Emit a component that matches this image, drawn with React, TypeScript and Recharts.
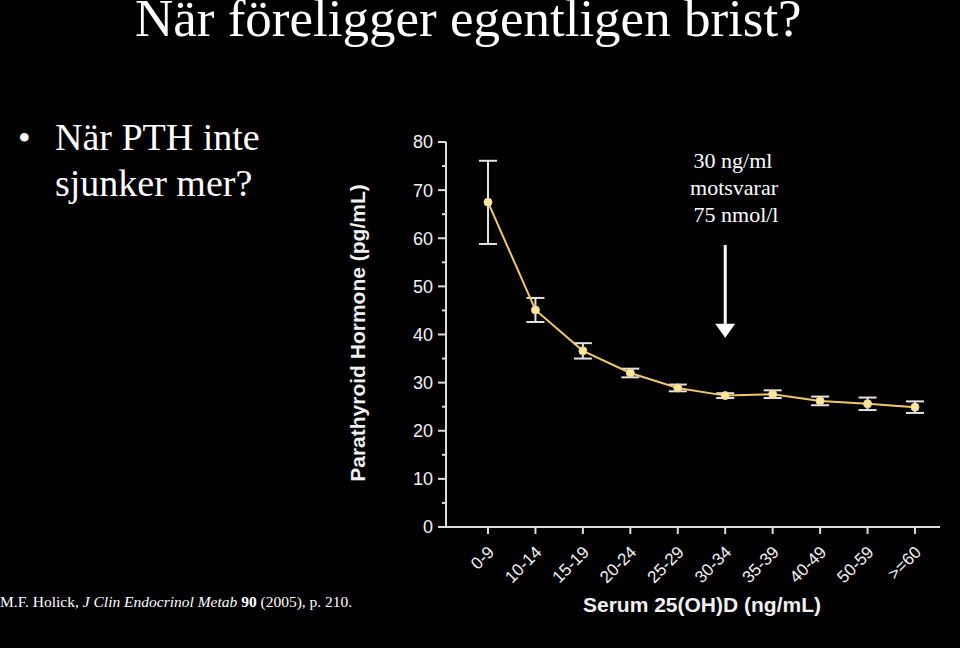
import React from "react";
import {
  LineChart,
  Line,
  XAxis,
  YAxis,
  ErrorBar,
  ReferenceLine,
} from "recharts";

const categories = ["0-9", "10-14", "15-19", "20-24", "25-29", "30-34", "35-39", "40-49", "50-59", ">=60"];
const pthValues = [67.5, 45.1, 36.6, 32.0, 28.9, 27.3, 27.6, 26.2, 25.6, 24.9];
const errLow = [8.7, 2.5, 1.6, 0.9, 0.7, 0.5, 0.8, 0.9, 1.3, 1.2];
const errHigh = [8.6, 2.5, 1.6, 0.9, 0.7, 0.5, 0.8, 0.9, 1.3, 1.2];
const yTicks = [0, 5, 10, 15, 20, 25, 30, 35, 40, 45, 50, 55, 60, 65, 70, 75, 80];

const data = categories.map((c, i) => ({
  range: c,
  pth: pthValues[i],
  err: [errLow[i], errHigh[i]],
}));

const AXIS = "#dcdcdc";
const SANS = "'Liberation Sans', Arial, sans-serif";
const SERIF = "'Liberation Serif', 'Times New Roman', serif";

function YTick(props: any) {
  const { x, y, payload } = props;
  const major = payload.value % 10 === 0;
  return (
    <g>
      <line x1={x - (major ? 8 : 4)} x2={x} y1={y} y2={y} stroke={AXIS} strokeWidth={2} />
      {major && (
        <text x={x - 13} y={y} dy="0.36em" textAnchor="end" fill="#f2f2f2" fontSize={18} fontFamily={SANS}>
          {payload.value}
        </text>
      )}
    </g>
  );
}

function XTick(props: any) {
  const { x, y, payload } = props;
  return (
    <g transform={`translate(${x},${y})`}>
      <line x1={0} x2={0} y1={0} y2={7} stroke={AXIS} strokeWidth={2} />
      <g transform="translate(3,22) rotate(-45)">
        <text textAnchor="end" dy="0.35em" fill="#f2f2f2" fontSize={17} fontFamily={SANS}>
          {payload.value}
        </text>
      </g>
    </g>
  );
}

// the downward arrow pointing at 30-34
function Arrow(props: any) {
  const { x1, y1, y2 } = props;
  const head = 14;
  return (
    <g>
      <line x1={x1} x2={x1} y1={y1} y2={y2 - head} stroke="#fff" strokeWidth={3} />
      <polygon points={`${x1 - 10},${y2 - head} ${x1 + 10},${y2 - head} ${x1},${y2}`} fill="#fff" />
    </g>
  );
}

export default function App() {
  return (
    <div
      style={{
        position: "absolute",
        top: 0,
        left: 0,
        width: 960,
        height: 648,
        background: "#000",
        overflow: "hidden",
      }}
    >
      <div style={{ position: "absolute", top: 0, left: 0 }}>
        <LineChart
          width={960}
          height={648}
          data={data}
          margin={{ top: 142, right: 20, bottom: 0, left: 0 }}
        >
          <XAxis
            dataKey="range"
            height={121}
            padding={{ left: 42, right: 25 }}
            axisLine={{ stroke: AXIS, strokeWidth: 2 }}
            tickLine={false}
            tickSize={0}
            tickMargin={0}
            tick={<XTick />}
            interval={0}
          />
          <YAxis
            width={446}
            domain={[0, 80]}
            ticks={yTicks}
            interval={0}
            axisLine={{ stroke: AXIS, strokeWidth: 2 }}
            tickLine={false}
            tickSize={0}
            tickMargin={0}
            tick={<YTick />}
          />
          <ReferenceLine
            segment={[
              { x: "30-34", y: 58.6 },
              { x: "30-34", y: 39.3 },
            ]}
            shape={<Arrow />}
          />
          <Line
            type="linear"
            dataKey="pth"
            stroke="#efc86e"
            strokeWidth={2}
            dot={{ r: 4, fill: "#fbe7a2", stroke: "#f3d489", strokeWidth: 1 }}
            isAnimationActive={false}
          >
            <ErrorBar dataKey="err" width={9} stroke="#e2e2e2" strokeWidth={2} direction="y" />
          </Line>
        </LineChart>
      </div>
      <svg
        width={960}
        height={648}
        style={{ position: "absolute", top: 0, left: 0, pointerEvents: "none" }}
      >
        <text x={135} y={36} fontSize={53} fill="#fff" fontFamily={SERIF}>
          När föreligger egentligen brist?
        </text>
        <text x={18} y={150} fontSize={36} fill="#fff" fontFamily={SERIF}>•</text>
        <text x={55} y={150} fontSize={38} fill="#fff" fontFamily={SERIF}>När PTH inte</text>
        <text x={55} y={196} fontSize={38} fill="#fff" fontFamily={SERIF}>sjunker mer?</text>
        <g fontSize={22} fill="#fff" fontFamily={SERIF} textAnchor="middle">
          <text x={733} y={168}>30 ng/ml</text>
          <text x={734} y={195}>motsvarar</text>
          <text x={736} y={222}>75 nmol/l</text>
        </g>
        <text x={0} y={607} fontSize={15.5} fill="#fff" fontFamily={SERIF}>
          M.F. Holick, <tspan fontStyle="italic">J Clin Endocrinol Metab</tspan>{" "}
          <tspan fontWeight="bold">90</tspan> (2005), p. 210.
        </text>
        <text x={702} y={612} fontSize={21} fill="#f0f0f0" fontWeight="bold" fontFamily={SANS} textAnchor="middle">
          Serum 25(OH)D (ng/mL)
        </text>
        <text
          transform="translate(365,333) rotate(-90)"
          fontSize={21}
          fill="#f0f0f0"
          fontWeight="bold"
          fontFamily={SANS}
          textAnchor="middle"
        >
          Parathyroid Hormone (pg/mL)
        </text>
      </svg>
    </div>
  );
}
